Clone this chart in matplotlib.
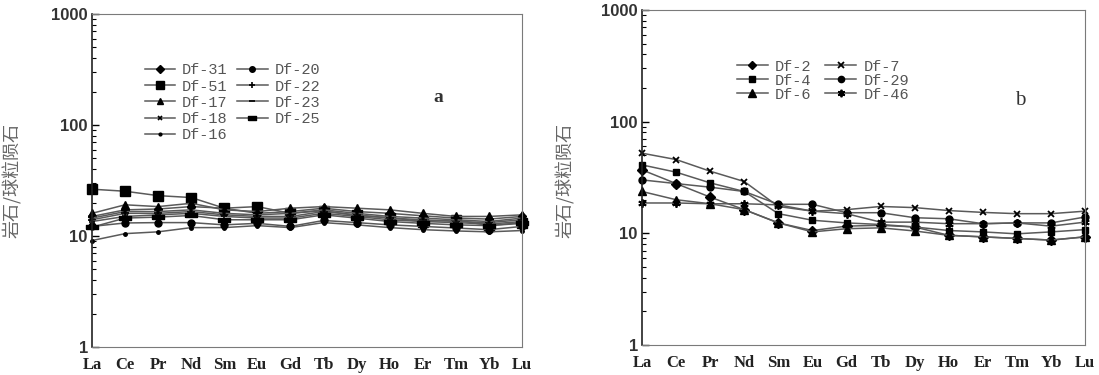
import matplotlib
matplotlib.use("Agg")
import matplotlib.pyplot as plt
from matplotlib.ticker import LogLocator, NullFormatter, FixedLocator, FixedFormatter

# 稀土元素 (x 轴)
elements = ["La", "Ce", "Pr", "Nd", "Sm", "Eu", "Gd", "Tb", "Dy", "Ho", "Er", "Tm", "Yb", "Lu"]

# 图 a: 样品名
samples_a = ["Df-31", "Df-51", "Df-17", "Df-18", "Df-16", "Df-20", "Df-22", "Df-23", "Df-25"]
df31 = [15.0, 17.2, 17.5, 18.4, 17.8, 16.0, 16.6, 17.8, 16.6, 16.0, 15.2, 14.5, 14.2, 15.0]
df51 = [26.4, 25.3, 23.1, 22.2, 17.8, 18.4, 16.0, 16.9, 15.3, 14.6, 13.5, 14.0, 12.4, 13.2]
df17 = [16.0, 19.1, 18.4, 19.7, 17.2, 16.6, 17.8, 18.4, 17.8, 17.2, 16.0, 15.0, 15.0, 15.5]
df18 = [14.5, 16.6, 16.6, 17.2, 16.0, 15.5, 16.0, 17.2, 16.0, 15.0, 14.5, 14.0, 13.5, 14.5]
df16 = [9.1, 10.5, 10.9, 11.9, 11.9, 12.4, 11.9, 13.2, 12.6, 11.9, 11.4, 11.1, 10.9, 11.2]
df20 = [12.2, 13.1, 13.2, 13.2, 12.6, 13.0, 12.2, 13.8, 13.2, 12.6, 12.2, 11.8, 11.4, 12.2]
df22 = [14.0, 16.0, 16.0, 16.6, 15.5, 15.0, 15.0, 16.6, 15.5, 14.5, 14.0, 13.5, 13.2, 14.0]
df23 = [13.5, 15.0, 15.5, 16.0, 15.0, 14.5, 14.5, 16.0, 15.0, 14.0, 13.5, 13.2, 12.8, 13.5]
df25 = [12.0, 14.5, 14.8, 15.3, 14.0, 14.0, 14.0, 15.5, 14.5, 13.5, 13.0, 12.6, 12.4, 13.0]

# 图 b
samples_b = ["Df-2", "Df-4", "Df-6", "Df-7", "Df-29", "Df-46"]
df2 = [37.0, 27.9, 21.1, 16.3, 12.4, 10.6, 11.6, 11.8, 11.4, 9.6, 9.3, 9.0, 8.7, 9.3]
df4 = [41.0, 35.3, 28.3, 23.7, 15.0, 13.1, 12.4, 12.0, 11.4, 10.6, 10.3, 9.9, 10.3, 10.8]
df6 = [23.7, 20.0, 18.4, 16.3, 12.4, 10.3, 11.0, 11.2, 10.5, 9.6, 9.3, 9.0, 8.7, 9.3]
df7 = [52.2, 45.8, 36.0, 29.1, 17.4, 15.8, 16.3, 17.4, 17.0, 16.0, 15.4, 15.0, 15.0, 15.8]
df29 = [30.1, 27.9, 25.9, 23.7, 18.2, 18.2, 15.3, 15.3, 13.8, 13.5, 12.2, 12.4, 12.4, 14.0]
df46 = [18.7, 18.7, 18.4, 18.4, 18.0, 15.8, 15.0, 12.6, 12.6, 12.2, 12.2, 12.4, 11.6, 12.6]

ytick_vals = [1, 10, 100, 1000]
ytick_labels = ["1", "10", "100", "1000"]

bar_marker = [(-1, -0.35), (1, -0.35), (1, 0.35), (-1, 0.35), (-1, -0.35)]

style_a = {
    "Df-31": dict(marker="D", ms=4.5),
    "Df-51": dict(marker="s", ms=7),
    "Df-17": dict(marker="^", ms=5.5),
    "Df-18": dict(marker="x", ms=4, mew=1.2),
    "Df-16": dict(marker="o", ms=2.5),
    "Df-20": dict(marker="o", ms=5),
    "Df-22": dict(marker="+", ms=6, mew=1.2),
    "Df-23": dict(marker="_", ms=5, mew=1.2),
    "Df-25": dict(marker=bar_marker, ms=8),
}
style_b = {
    "Df-2": dict(marker="D", ms=5),
    "Df-4": dict(marker="s", ms=5),
    "Df-6": dict(marker="^", ms=6),
    "Df-7": dict(marker="x", ms=4.5, mew=1.3),
    "Df-29": dict(marker="o", ms=5),
    "Df-46": dict(marker=(6, 2, 0), ms=6, mew=1.3),
}

LINE_COLOR = "#5a5a5a"
CJK = ["Noto Sans CJK SC", "DejaVu Sans"]


def setup_axes(ax, label_x, label_y):
    ax.set_yscale("log")
    ax.set_ylim(1, 1000)
    ax.set_xlim(0, len(elements) - 1)
    ax.yaxis.set_major_locator(FixedLocator(ytick_vals))
    ax.yaxis.set_major_formatter(FixedFormatter(ytick_labels))
    ax.yaxis.set_minor_locator(LogLocator(base=10, subs=range(2, 10)))
    ax.yaxis.set_minor_formatter(NullFormatter())
    ax.tick_params(axis="y", which="major", direction="in", length=5, width=1,
                   labelsize=12, labelcolor="#333333", pad=3)
    ax.tick_params(axis="y", which="minor", direction="in", length=3, width=0.8)
    for t in ax.get_yticklabels():
        t.set_fontfamily("Liberation Sans")
        t.set_fontweight("bold")
    ax.set_xticks(range(len(elements)))
    ax.set_xticklabels(elements, fontfamily="Liberation Serif", fontweight="bold",
                       fontsize=12, color="#222222")
    ax.tick_params(axis="x", length=0, pad=7)
    for side in ["top", "right", "bottom"]:
        ax.spines[side].set_color("#7a7a7a")
        ax.spines[side].set_linewidth(0.8)
    ax.spines["left"].set_color("#222222")
    ax.spines["left"].set_linewidth(1.2)
    ax.set_ylabel("岩石/球粒陨石", family=CJK, fontsize=13, color="#666666")
    ax.yaxis.set_label_coords(label_x, label_y)


def draw(ax, names, series, styles):
    x = list(range(len(elements)))
    for name, vals in zip(names, series):
        ax.plot(x, vals, color=LINE_COLOR, lw=1.1, mfc="black", mec="black",
                label=name, clip_on=False, **styles[name])


fig = plt.figure(figsize=(10.99, 3.75), dpi=100)

ax_a = fig.add_axes([0.0837, 0.0747, 0.3913, 0.888])
setup_axes(ax_a, -0.163, 0.5)
draw(ax_a, samples_a, [df31, df51, df17, df18, df16, df20, df22, df23, df25], style_a)
handles, labels = ax_a.get_legend_handles_labels()
leg_a = ax_a.legend(handles, labels, ncol=2, loc="upper left", bbox_to_anchor=(0.105, 0.875),
                    frameon=False, prop={"family": "Liberation Mono", "size": 11},
                    labelspacing=0.15, handlelength=2.0, handletextpad=0.45,
                    columnspacing=0.6, borderpad=0, markerscale=0.8)
for t in leg_a.get_texts():
    t.set_color("#555555")
ax_a.text(0.805, 0.75, "a", transform=ax_a.transAxes, fontsize=14, fontweight="bold",
          family="Liberation Serif", color="#333333", ha="center", va="center")

ax_b = fig.add_axes([0.5842, 0.08, 0.4031, 0.8933])
setup_axes(ax_b, -0.151, 0.49)
draw(ax_b, samples_b, [df2, df4, df6, df7, df29, df46], style_b)
handles, labels = ax_b.get_legend_handles_labels()
leg_b = ax_b.legend(handles, labels, ncol=2, loc="upper left", bbox_to_anchor=(0.197, 0.875),
                    frameon=False, prop={"family": "Liberation Mono", "size": 11},
                    labelspacing=0.0, handlelength=2.0, handletextpad=0.5,
                    columnspacing=0.9, borderpad=0, markerscale=0.9)
for t in leg_b.get_texts():
    t.set_color("#555555")
ax_b.text(0.853, 0.73, "b", transform=ax_b.transAxes, fontsize=15,
          family="Liberation Serif", color="#333333", ha="center", va="center")

fig.savefig("out.png", dpi=100)
